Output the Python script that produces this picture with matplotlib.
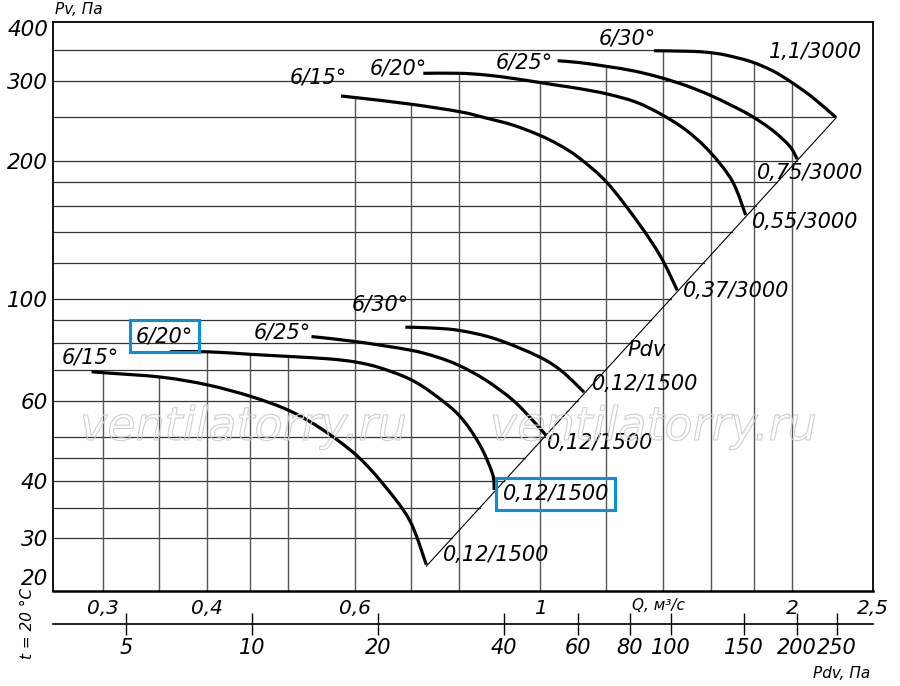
import numpy as np
import matplotlib.pyplot as plt
from matplotlib.path import Path
from matplotlib.textpath import TextPath
from matplotlib.patches import PathPatch
from matplotlib.font_manager import FontProperties
from matplotlib.transforms import Affine2D, blended_transform_factory

plt.rcParams['font.family'] = ['DejaVu Sans']
plt.rcParams['font.style'] = 'italic'

# 3000 rpm group (Q in m3/s, Pv in Pa)
q_hi_15 = [0.578, 0.603, 0.698, 0.802, 0.862, 0.927, 0.997, 1.054, 1.113, 1.203, 1.313, 1.393, 1.458]
p_hi_15 = [277.5, 275.2, 266.6, 256.4, 248.4, 239.9, 228.1, 216.9, 203.3, 179.2, 145.8, 123.7, 104.5]
q_hi_20 = [0.725, 0.802, 0.862, 0.927, 0.999, 1.054, 1.113, 1.203, 1.301, 1.393, 1.493, 1.594, 1.696, 1.760]
p_hi_20 = [311.1, 311.1, 308.4, 303.3, 297.0, 292.5, 288.1, 280.3, 269.2, 253.5, 233.9, 209.8, 181.0, 152.5]
q_hi_25 = [1.049, 1.113, 1.203, 1.295, 1.393, 1.493, 1.594, 1.689, 1.784, 1.893, 1.986, 2.028]
p_hi_25 = [331.3, 328.4, 321.9, 314.7, 304.5, 292.5, 278.9, 265.2, 251.6, 233.9, 215.8, 202.0]
q_hi_30 = [1.368, 1.519, 1.594, 1.665, 1.784, 1.893, 1.986, 2.113, 2.257]
p_hi_30 = [348.5, 347.4, 345.2, 341.0, 330.1, 315.4, 299.2, 276.1, 249.0]

# 1500 rpm group
q_lo_15 = [0.291, 0.302, 0.353, 0.401, 0.452, 0.502, 0.550, 0.603, 0.648, 0.698, 0.731]
p_lo_15 = [69.4, 69.0, 67.5, 64.9, 61.2, 57.0, 51.8, 45.6, 39.6, 32.9, 26.3]
q_lo_20 = [0.361, 0.401, 0.452, 0.502, 0.560, 0.603, 0.643, 0.698, 0.744, 0.800, 0.846, 0.877, 0.881]
p_lo_20 = [76.7, 76.7, 75.7, 74.9, 74.0, 72.8, 70.8, 66.9, 62.2, 55.7, 48.2, 41.5, 38.3]
q_lo_25 = [0.533, 0.603, 0.698, 0.751, 0.800, 0.861, 0.927, 0.979, 1.016]
p_lo_25 = [82.8, 80.7, 77.4, 74.8, 71.6, 66.5, 60.2, 54.4, 50.4]
q_lo_30 = [0.690, 0.737, 0.800, 0.885, 0.997, 1.063, 1.128]
p_lo_30 = [86.8, 86.5, 85.4, 81.8, 74.8, 69.4, 62.6]

curves = [(q_hi_15, p_hi_15), (q_hi_20, p_hi_20), (q_hi_25, p_hi_25), (q_hi_30, p_hi_30),
          (q_lo_15, p_lo_15), (q_lo_20, p_lo_20), (q_lo_25, p_lo_25), (q_lo_30, p_lo_30)]

# dynamic pressure line Pdv = k*Q^2
k_pdv = 48.8
pdv_line_q = [0.731, 2.257]
pdv_line_p = [26.1, 248.6]

grid_p = [30, 35, 40, 45, 50, 60, 70, 80, 90, 100, 120, 140, 160, 180, 200, 250, 300, 350]
grid_q = [0.3, 0.35, 0.4, 0.45, 0.5, 0.6, 0.7, 0.8, 1.0, 1.2, 1.4, 1.6, 1.8, 2.0]

q_ticks = [0.3, 0.4, 0.6, 1, 2, 2.5]
q_tick_labels = ['0,3', '0,4', '0,6', '1', '2', '2,5']
p_ticks = [30, 40, 60, 100, 200, 300]
pdv_ticks = [5, 10, 20, 40, 60, 80, 100, 150, 200, 250]

# curve labels: text, Q, P
labels = [
    ('6/15°', 0.502, 304), ('6/20°', 0.625, 319), ('6/25°', 0.885, 329), ('6/30°', 1.176, 371),
    ('1,1/3000', 1.876, 346), ('0,75/3000', 1.816, 188), ('0,55/3000', 1.792, 147),
    ('0,37/3000', 1.479, 104),
    ('6/15°', 0.268, 74.7), ('6/25°', 0.4545, 84.3), ('6/30°', 0.596, 97.5),
    ('0,12/1500', 0.7645, 27.6), ('0,12/1500', 1.020, 48.5), ('0,12/1500', 1.154, 65.2),
    ('Pdv', 1.271, 77.4),
]
boxed = [('6/20°', 0.3287, 83.0), ('0,12/1500', 0.9016, 37.5)]


def curve_path(q, p):
    # smooth bezier through the read points (in log space)
    pts = np.column_stack([np.log10(q), np.log10(p)])
    n = len(pts)
    verts = [pts[0]]
    codes = [Path.MOVETO]
    for i in range(n - 1):
        a = pts[max(i - 1, 0)]
        b, c = pts[i], pts[i + 1]
        d = pts[min(i + 2, n - 1)]
        verts += [b + (c - a) / 6, c - (d - b) / 6, c]
        codes += [Path.CURVE4] * 3
    return Path(10 ** np.array(verts), codes)


fig = plt.figure(figsize=(9, 6.86), dpi=100)
ax = fig.add_axes([0.0593, 0.1385, 0.911, 0.8294])
ax.set_xscale('log')
ax.set_yscale('log')
ax.set_xlim(0.262, 2.50)
ax.set_ylim(23.04, 402.6)
ax.minorticks_off()

lq = np.log10(pdv_line_q)
lp = np.log10(pdv_line_p)
c30q, c30p = np.array(q_hi_30), np.array(p_hi_30)

# horizontal grid: from left edge to the Pdv line (or the top curve)
for p in grid_p:
    q_end = 10 ** np.interp(np.log10(p), lp, lq)
    q_end = min(q_end, np.interp(p, c30p[::-1], c30q[::-1]))
    ax.plot([0.262, q_end], [p, p], color='#333333', lw=0.9, zorder=1)

# vertical grid: from bottom up to the highest curve above it
for q in grid_q:
    top = 0
    for cq, cp in curves:
        if cq[0] <= q <= cq[-1]:
            top = max(top, 10 ** np.interp(np.log10(q), np.log10(cq), np.log10(cp)))
    ax.plot([q, q], [23.04, top], color='#555555', lw=1.0, zorder=1)

ax.plot(pdv_line_q, pdv_line_p, color='black', lw=0.8, zorder=2)

for cq, cp in curves:
    ax.add_patch(PathPatch(curve_path(cq, cp), fc='none', ec='black', lw=2.3,
                           capstyle='butt', zorder=3))

for s, q, p in labels:
    ax.text(q, p, s, fontsize=15, ha='left', va='center', zorder=4)
for s, q, p in boxed:
    ax.text(q, p, s, fontsize=15, ha='left', va='center', zorder=4,
            bbox=dict(boxstyle='square,pad=0.3', fc='none', ec='#0a8fdc', lw=2.2))

ax.set_xticks(q_ticks)
ax.set_xticklabels(q_tick_labels)
ax.set_yticks(p_ticks)
ax.set_yticklabels([str(v) for v in p_ticks])
ax.tick_params(axis='x', length=0, pad=6, labelsize=14.5)
ax.tick_params(axis='y', length=0, pad=4, labelsize=15.5)
for sp in ax.spines.values():
    sp.set_linewidth(1.3)
ax.spines['bottom'].set_linewidth(1.8)

ytr = blended_transform_factory(ax.transAxes, ax.transData)
ax.text(-0.0065, 387, '400', transform=ytr, ha='right', va='center', fontsize=15.5)
ax.text(-0.0065, 24.5, '20', transform=ytr, ha='right', va='center', fontsize=15.5)
xtr = blended_transform_factory(ax.transData, ax.transAxes)
ax.text(1.383, -0.026, 'Q, м³/с', transform=xtr, ha='center', va='center', fontsize=11)

sec = ax.secondary_xaxis(-0.058, functions=(lambda q: k_pdv * q ** 2,
                                            lambda p: np.sqrt(np.maximum(p, 1e-9) / k_pdv)))
sec.set_xticks(pdv_ticks)
sec.set_xticklabels([str(v) for v in pdv_ticks])
sec.minorticks_off()
sec.tick_params(axis='x', direction='inout', length=16, width=1.0, pad=2, labelsize=15)
sec.spines['bottom'].set_linewidth(1.2)

fig.text(55 / 900, 1 - 10 / 686, 'Pv, Па', ha='left', va='center', fontsize=11)
fig.text(870 / 900, 1 - 673 / 686, 'Pdv, Па', ha='right', va='center', fontsize=11)
fig.text(28 / 900, 1 - 623 / 686, 't = 20 °C', rotation=90, ha='center', va='center', fontsize=11)

# watermark
wm = TextPath((0, 0), 'ventilatorry.ru', size=46,
              prop=FontProperties(family='DejaVu Sans', style='italic'))
for x0 in (80, 490):
    patch = PathPatch(wm, fc='none', ec='#cfcfcf', lw=0.8, zorder=5,
                      transform=Affine2D().translate(x0, 686 - 440))
    fig.add_artist(patch)

fig.savefig('out.png', dpi=100)
